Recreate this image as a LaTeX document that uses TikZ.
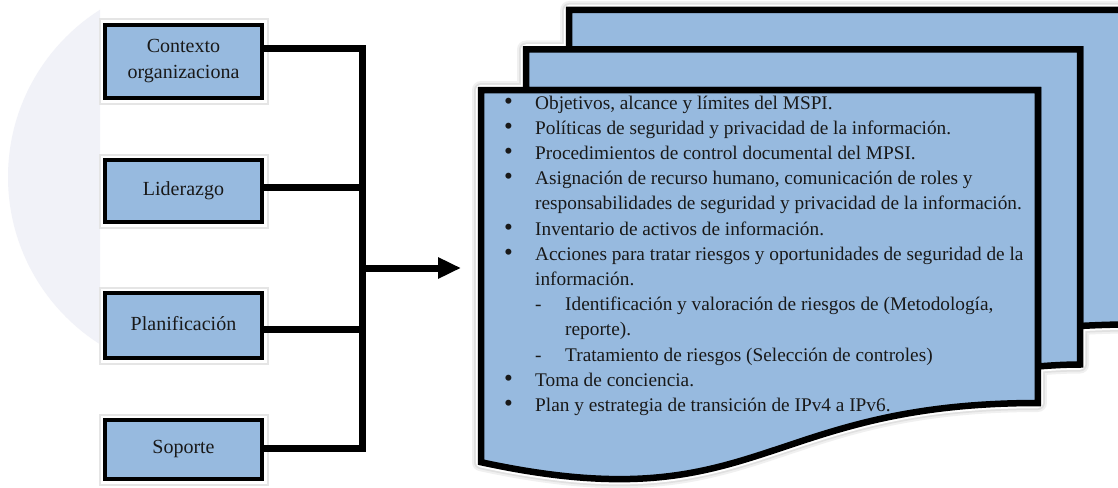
\documentclass[tikz,border=0pt]{standalone}
\usepackage{fontspec}
\setmainfont{Liberation Serif}
\usepackage{array}
\usepackage{graphicx}
\usetikzlibrary{arrows.meta}
\definecolor{boxblue}{RGB}{151,186,223}
\definecolor{bgcirc}{RGB}{241,242,248}
\definecolor{txtc}{RGB}{25,25,25}
\newcommand{\mdback}[1]{\path[#1] (569.2,49.5) -- (569.2,10) -- (1128,10) -- (1128,324.5) .. controls (1104,324.5) and (1080,326) .. (1080,326) -- (1080,49.5) -- cycle;}
\newcommand{\mdmid}[1]{\path[#1] (526,90) -- (526,49.5) -- (1080,49.5) -- (1080,364.5) .. controls (1059,364.5) and (1038,366.5) .. (1038,366.5) -- (1038,90) -- cycle;}
\newcommand{\mdfront}[1]{\path[#1] (481,462.2) .. controls (758.9,522.3) and (758.9,403) .. (1037.9,403) -- (1037.9,90) -- (481,90) -- cycle;}
\newcommand{\bul}{\smash{\scalebox{1.3}{\textbullet}}}
\begin{document}
\begin{tikzpicture}[x=1pt,y=-1pt,
  boxsty/.style={draw=black, line width=3.5pt, fill=boxblue, text=txtc,
    font=\fontsize{20}{26}\selectfont, align=center, minimum width=157pt, inner sep=0pt,
    preaction={draw=black!10, line width=13pt},
    preaction={draw=white, line width=9pt}},
  halo1/.style={draw=black!6, line width=18pt, line join=round},
  halo2/.style={draw=black!12, line width=14pt, line join=round},
  halo3/.style={draw=white, line width=10.5pt, line join=round},
  pagesty/.style={draw=black, fill=boxblue, line width=6.5pt, line join=miter},
  bus/.style={draw=black, line width=7pt, line join=miter}]
\useasboundingbox (0,0) rectangle (1118,487);
\clip (0,0) rectangle (1118,487);
\fill[white] (0,0) rectangle (1118,487);
\begin{scope}
  \clip (0,0) rectangle (100,487);
  \fill[bgcirc] (206,177) circle (198pt);
\end{scope}
% left boxes
\node[boxsty, minimum height=73pt] (b1) at (183.5,61.5) {Contexto\\organizaciona};
\node[boxsty, minimum height=62pt] (b2) at (183.5,191) {\raisebox{4pt}{Liderazgo}};
\node[boxsty, minimum height=65pt] (b3) at (183.5,325.5) {\raisebox{4pt}{Planificación}};
\node[boxsty, minimum height=59pt] (b4) at (183.5,449.5) {\raisebox{5pt}{Soporte}};
% bus
\coordinate (j1) at (362,49);
\coordinate (j2) at (362,187);
\coordinate (j3) at (362,329);
\coordinate (j4) at (362,448);
\coordinate (ja) at (362,268);
\coordinate (atip) at (461,268);
\draw[bus] (b1.east |- j1) -- (j1) -- (j4) -- (b4.east |- j4);
\draw[bus] (b2.east |- j2) -- (j2);
\draw[bus] (b3.east |- j3) -- (j3);
\draw[bus, -{Triangle[length=23pt,width=20pt]}] (ja) -- (atip);
% multidocument halos
\mdback{halo1}\mdmid{halo1}\mdfront{halo1}
\mdback{halo2}\mdmid{halo2}\mdfront{halo2}
\mdback{halo3}\mdmid{halo3}\mdfront{halo3}
% pages
\mdback{pagesty}
\mdmid{pagesty}
\mdfront{pagesty}
\node[anchor=base west, inner sep=0pt, text=txtc, font=\fontsize{19.3}{25.2}\selectfont] (doc) at (504,109) {%
\begin{tabular}[t]{@{}w{l}{31pt}@{}w{l}{30pt}@{}l@{}}
\bul & \multicolumn{2}{@{}l@{}}{Objetivos, alcance y límites del MSPI.}\\
\bul & \multicolumn{2}{@{}l@{}}{Políticas de seguridad y privacidad de la información.}\\
\bul & \multicolumn{2}{@{}l@{}}{Procedimientos de control documental del MPSI.}\\
\bul & \multicolumn{2}{@{}l@{}}{Asignación de recurso humano, comunicación de roles y}\\
 & \multicolumn{2}{@{}l@{}}{responsabilidades de seguridad y privacidad de la información.}\\
\bul & \multicolumn{2}{@{}l@{}}{Inventario de activos de información.}\\
\bul & \multicolumn{2}{@{}l@{}}{Acciones para tratar riesgos y oportunidades de seguridad de la}\\
 & \multicolumn{2}{@{}l@{}}{información.}\\
 & - & Identificación y valoración de riesgos de (Metodología,\\
 & & reporte).\\
 & - & Tratamiento de riesgos (Selección de controles)\\
\bul & \multicolumn{2}{@{}l@{}}{Toma de conciencia.}\\
\bul & \multicolumn{2}{@{}l@{}}{Plan y estrategia de transición de IPv4 a IPv6.}
\end{tabular}};
\end{tikzpicture}
\end{document}
